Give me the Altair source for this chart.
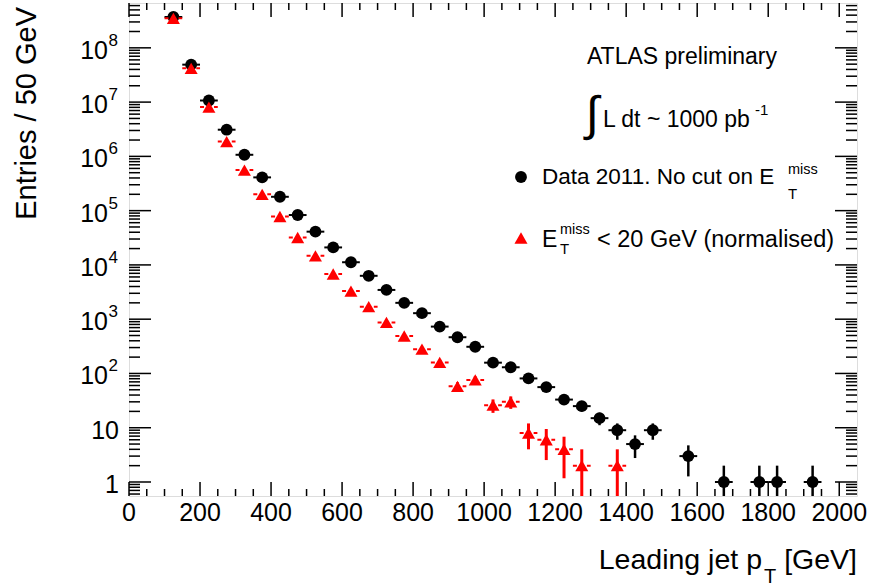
import altair as alt
import pandas as pd
import numpy as np

# ---------------- data ----------------
bin_half_width = 25  # bins of 50 GeV

black_centers = [125, 175, 225, 275, 325, 375, 425, 475, 525, 575, 625, 675, 725, 775,
                 825, 875, 925, 975, 1025, 1075, 1125, 1175, 1225, 1275, 1325, 1375,
                 1425, 1475, 1575, 1675, 1775, 1825, 1925]
black_values = [3.7e8, 4.9e7, 1.07e7, 3.1e6, 1.07e6, 4.1e5, 1.8e5, 8.3e4, 4.1e4, 2.1e4,
                1.12e4, 6.3e3, 3.46e3, 2.0e3, 1.29e3, 730, 465, 310, 158, 130, 81, 56,
                33, 25, 15, 9, 5, 9, 3, 1, 1, 1, 1]

red_centers = [125, 175, 225, 275, 325, 375, 425, 475, 525, 575, 625, 675, 725, 775,
               825, 875, 925, 975, 1025, 1075, 1125, 1175, 1225, 1275, 1375]
red_values = [3.5e8, 4.2e7, 8.1e6, 1.87e6, 5.6e5, 2.0e5, 7.8e4, 3.2e4, 1.47e4, 6.8e3,
              3.3e3, 1.7e3, 870, 490, 280, 160, 58, 76, 26, 30, 8, 6, 4, 2, 2]
red_norm_factor = 2.0  # normalisation applied to the E_T^miss < 20 GeV sample

x_major_ticks = [0, 200, 400, 600, 800, 1000, 1200, 1400, 1600, 1800, 2000]
x_minor_ticks = [v for v in range(50, 2001, 50) if v % 200 != 0]
y_decades = [0, 1, 2, 3, 4, 5, 6, 7, 8]

X_MIN, X_MAX = 0, 2050
Y_MIN, Y_MAX = 0.552, 6.7e8

# ---------------- layout ----------------
W, H = 728, 493
OX, OY = 129, 3
FONT = "Liberation Sans"


def make_df(centers, values, factor):
    v = np.array(values, dtype=float)
    err = np.sqrt(v * factor)
    return pd.DataFrame({
        "x": centers,
        "y": v,
        "xlo": np.array(centers) - bin_half_width,
        "xhi": np.array(centers) + bin_half_width,
        "ylo": np.maximum(v - err, Y_MIN),
        "yhi": v + err,
    })


black = make_df(black_centers, black_values, 1.0)
red = make_df(red_centers, red_values, red_norm_factor)

xs = alt.Scale(domain=[X_MIN, X_MAX], nice=False, zero=False)
ys = alt.Scale(type="log", domain=[Y_MIN, Y_MAX], nice=False)


def X(field):
    return alt.X(field, type="quantitative", scale=xs, axis=None)


def Y(field):
    return alt.Y(field, type="quantitative", scale=ys, axis=None)


layers = []

# black series
layers.append(alt.Chart(black).mark_rule(color="black", strokeWidth=2).encode(
    x=X("xlo"), x2="xhi", y=Y("y")))
layers.append(alt.Chart(black).mark_rule(color="black", strokeWidth=2.5).encode(
    x=X("x"), y=Y("ylo"), y2="yhi"))
layers.append(alt.Chart(black).mark_point(shape="circle", filled=True, color="black",
                                          size=140, opacity=1).encode(x=X("x"), y=Y("y")))

# red series
layers.append(alt.Chart(red).mark_rule(color="#ff0000", strokeWidth=2, strokeDash=[4, 3]).encode(
    x=X("xlo"), x2="xhi", y=Y("y")))
layers.append(alt.Chart(red).mark_rule(color="#ff0000", strokeWidth=3).encode(
    x=X("x"), y=Y("ylo"), y2="yhi"))
layers.append(alt.Chart(red).mark_point(shape="triangle-up", filled=True, color="#ff0000",
                                        size=170, opacity=1).encode(x=X("x"), y=Y("y")))

# ticks pointing inward (ROOT style)
xmaj = pd.DataFrame({"v": x_major_ticks})
xmin = pd.DataFrame({"v": x_minor_ticks})
for df, ln in ((xmaj, 14), (xmin, 7)):
    layers.append(alt.Chart(df).mark_rule(color="black", strokeWidth=1.5).encode(
        x=X("v"), y=alt.value(H), y2=alt.value(H - ln)))
    layers.append(alt.Chart(df).mark_rule(color="black", strokeWidth=1.5).encode(
        x=X("v"), y=alt.value(0), y2=alt.value(ln)))

# x tick labels
xlab = pd.DataFrame({"v": x_major_ticks, "t": [str(v) for v in x_major_ticks]})
layers.append(alt.Chart(xlab).mark_text(align="center", baseline="middle", fontSize=25,
                                        font=FONT, color="black").encode(
    x=X("v"), y=alt.value(H + 17), text="t:N"))

ymaj = pd.DataFrame({"v": [10.0 ** d for d in y_decades]})
ymin_vals = []
for d in range(-1, 9):
    for m in range(2, 10):
        val = m * 10.0 ** d
        if Y_MIN < val < Y_MAX:
            ymin_vals.append(val)
ymin = pd.DataFrame({"v": ymin_vals})
for df, ln in ((ymaj, 22), (ymin, 11)):
    layers.append(alt.Chart(df).mark_rule(color="black", strokeWidth=1.5).encode(
        y=Y("v"), x=alt.value(0), x2=alt.value(ln)))
    layers.append(alt.Chart(df).mark_rule(color="black", strokeWidth=1.5).encode(
        y=Y("v"), x=alt.value(W - ln), x2=alt.value(W)))

# y tick labels 1, 10, 10^2 ... 10^8
lab = pd.DataFrame({
    "v": [10.0 ** d for d in y_decades],
    "base": ["1" if d == 0 else "10" for d in y_decades],
    "exp": ["" if d < 2 else str(d) for d in y_decades],
    "d": y_decades,
})
lab_hi = lab[lab.d >= 2]
lab_lo = lab[lab.d < 2]
layers.append(alt.Chart(lab_hi).mark_text(align="right", baseline="middle", fontSize=25,
                                          font=FONT, color="black", dy=3).encode(
    y=Y("v"), x=alt.value(108 - OX), text="base:N"))
layers.append(alt.Chart(lab_hi).mark_text(align="left", baseline="middle", fontSize=17,
                                          font=FONT, color="black", dy=-7).encode(
    y=Y("v"), x=alt.value(108.5 - OX), text="exp:N"))
layers.append(alt.Chart(lab_lo).mark_text(align="right", baseline="middle", fontSize=25,
                                          font=FONT, color="black", dy=3).encode(
    y=Y("v"), x=alt.value(119 - OX), text="base:N"))

one = pd.DataFrame({"a": [0]})


def txt(s, x, y, size, align="left", angle=0):
    kw = dict(align=align, baseline="middle", fontSize=size, font=FONT, color="black")
    if angle:
        kw["angle"] = angle
    return alt.Chart(one).mark_text(**kw).encode(
        x=alt.value(x - OX), y=alt.value(y - OY), text=alt.value(s))


# annotations / legend
layers += [
    txt("ATLAS preliminary", 682, 57, 23, "center"),
    txt("\u222b", 592, 116, 48, "center"),
    txt("L dt ~ 1000 pb", 603, 120, 23),
    txt("-1", 755, 110, 15),
    txt("Data 2011. No cut on E", 542, 177, 22.5),
    txt("miss", 788, 170, 14.5),
    txt("T", 788, 194, 15),
    txt("E", 542, 240, 23),
    txt("miss", 560, 230, 14.5),
    txt("T", 560, 249, 15),
    txt("< 20 GeV (normalised)", 597, 240, 23.5),
    txt("Entries / 50 GeV", 27, 7, 29, "right", 270),
    txt("Leading jet p", 762, 560, 28.5, "right"),
    txt("T", 764, 577, 20),
    txt("[GeV]", 857, 560, 28.5, "right"),
]

leg_pts = pd.DataFrame({"a": [0]})
layers.append(alt.Chart(leg_pts).mark_point(shape="circle", filled=True, color="black",
                                            size=140, opacity=1).encode(
    x=alt.value(521 - OX), y=alt.value(177 - OY)))
layers.append(alt.Chart(leg_pts).mark_point(shape="triangle-up", filled=True, color="#ff0000",
                                            size=170, opacity=1).encode(
    x=alt.value(521 - OX), y=alt.value(238 - OY)))

chart = alt.layer(*layers).properties(
    width=W, height=H,
    autosize=alt.AutoSizeParams(type="none"),
    padding={"left": OX, "top": OY, "right": 874 - OX - W, "bottom": 587 - OY - H},
).configure_view(stroke="black", strokeWidth=2).configure(font=FONT, background="white")

chart.save("out.html", embed_options={"renderer": "svg", "actions": False})
